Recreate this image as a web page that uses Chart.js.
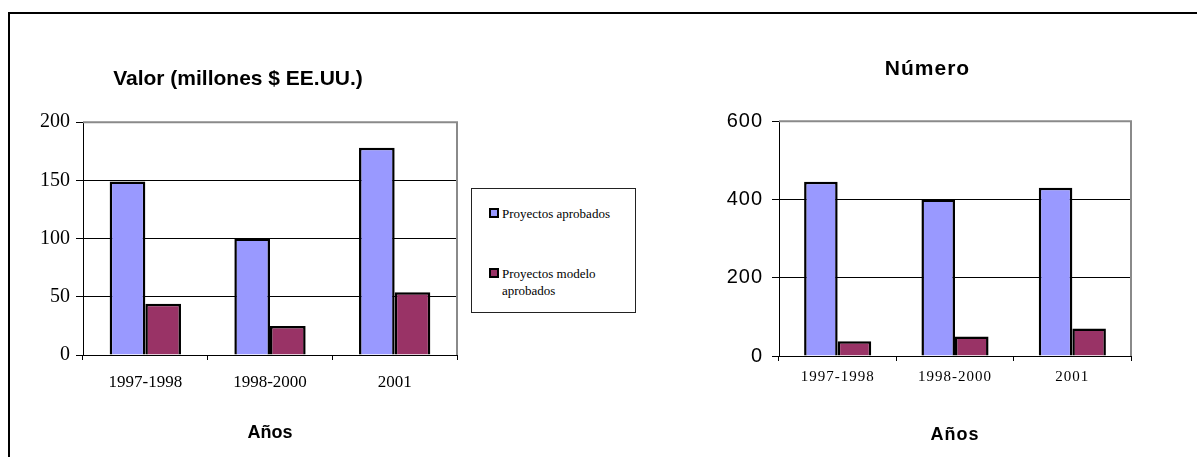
<!DOCTYPE html>
<html lang="es">
<head>
<meta charset="utf-8">
<title>Proyectos aprobados</title>
<script src="https://cdn.jsdelivr.net/npm/chart.js@4/dist/chart.umd.min.js"></script>
<style>
  html, body { margin: 0; padding: 0; background: #fff; }
  body { width: 1197px; height: 457px; position: relative; overflow: hidden; }
  #frame { position: absolute; left: 8px; top: 12px; right: -4px; bottom: -4px;
           border-top: 2px solid #000; border-left: 2px solid #000; }
  canvas { position: absolute; top: 0; }
  #valorChart { left: 19px; }
  #numeroChart { left: 724px; }
  #legend { position: absolute; left: 471px; top: 188px; width: 163px; height: 123px;
            border: 1px solid #222; background: #fff;
            font-family: 'Liberation Serif', 'Times New Roman', serif; font-size: 13px;
            line-height: 17px; color: #000; }
  .item { position: absolute; left: 17px; display: flex; align-items: flex-start; }
  .swatch { width: 6px; height: 6px; border: 2px solid #000; margin-top: 3px; margin-right: 3px; flex: none; }
  .label { width: 120px; }
</style>
</head>
<body>
<div id="frame"></div>
<canvas id="valorChart" width="451" height="457"></canvas>
<canvas id="numeroChart" width="427" height="457"></canvas>
<div id="legend"></div>
<script>
// Periods on the category axis
const periodos = ['1997-1998', '1998-2000', '2001'];

// Value of approved projects, millions of US$
const valorAprobados = [149, 100, 178];
const valorModelo = [44, 25, 54];

// Number of approved projects
const numeroAprobados = [445, 400, 430];
const numeroModelo = [38, 50, 70];

const serieNombres = ['Proyectos aprobados', 'Proyectos modelo aprobados'];
const colorAprobados = '#9999FF';
const colorModelo = '#993366';

const sans = "'Liberation Sans', Arial, sans-serif";
const serif = "'Liberation Serif', 'Times New Roman', serif";

// Grey top and right edges of the plot area
const plotFrame = {
  id: 'plotFrame',
  beforeDatasetsDraw(chart) {
    const { ctx, chartArea: a } = chart;
    ctx.save();
    ctx.strokeStyle = '#8a8a8a';
    ctx.lineWidth = 2;
    ctx.beginPath();
    ctx.moveTo(a.left, a.top);
    ctx.lineTo(a.right, a.top);
    ctx.lineTo(a.right, a.bottom);
    ctx.stroke();
    ctx.restore();
  }
};

// Slightly spaced lettering used by the second chart
const spacedText = {
  id: 'spacedText',
  beforeUpdate(chart) { chart.ctx.letterSpacing = '1px'; },
  beforeDraw(chart) { chart.ctx.letterSpacing = '1px'; }
};

function makeDatasets(aprobados, modelo) {
  return [
    { label: serieNombres[0], data: aprobados, backgroundColor: colorAprobados,
      borderColor: '#000', borderWidth: 2.5, borderSkipped: 'bottom' },
    { label: serieNombres[1], data: modelo, backgroundColor: colorModelo,
      borderColor: '#000', borderWidth: 2.5, borderSkipped: 'bottom' }
  ];
}

function makeOptions(cfg) {
  return {
    responsive: false,
    animation: false,
    devicePixelRatio: 1,
    layout: { padding: { left: 0, right: cfg.padRight, top: 0, bottom: 0 } },
    datasets: { bar: { categoryPercentage: 0.572, barPercentage: 1.0 } },
    plugins: {
      legend: { display: false },
      tooltip: { enabled: false },
      title: {
        display: true,
        text: cfg.title,
        color: '#000',
        font: { family: sans, size: cfg.titleSize, weight: 'bold', lineHeight: 1.2 },
        padding: { top: cfg.titleTop, bottom: cfg.titleBottom }
      }
    },
    scales: {
      x: {
        offset: true,
        afterFit(scale) { scale.height = cfg.xHeight; },
        grid: { offset: true, drawOnChartArea: false, drawTicks: true, tickLength: 5,
                tickColor: '#000', color: '#000' },
        border: { color: '#000', width: 1 },
        ticks: { color: '#000', font: cfg.xFont, padding: cfg.xPad, maxRotation: 0 },
        title: {
          display: true, text: 'Años', color: '#000',
          font: { family: sans, size: 18, weight: 'bold', lineHeight: 1.2 },
          padding: { top: 0, bottom: cfg.xTitleBottom }
        }
      },
      y: {
        min: 0, max: cfg.max,
        afterFit(scale) { scale.width = cfg.yWidth; },
        grid: { color: '#000', lineWidth: 1, drawTicks: true, tickLength: cfg.yTick, tickColor: '#000' },
        border: { color: '#000', width: 1 },
        ticks: { stepSize: cfg.step, color: '#000', font: cfg.yFont, padding: cfg.yPad }
      }
    }
  };
}

const valorChart = new Chart(document.getElementById('valorChart'), {
  type: 'bar',
  data: { labels: periodos, datasets: makeDatasets(valorAprobados, valorModelo) },
  options: makeOptions({
    title: 'Valor (millones $ EE.UU.)', titleSize: 21, titleTop: 67, titleBottom: 30,
    padRight: 13, yWidth: 64, xHeight: 102, max: 200, step: 50,
    xFont: { family: serif, size: 17 }, xPad: 12, xTitleBottom: 13,
    yFont: { family: serif, size: 20 }, yPad: 6, yTick: 7
  }),
  plugins: [plotFrame]
});

new Chart(document.getElementById('numeroChart'), {
  type: 'bar',
  data: { labels: periodos, datasets: makeDatasets(numeroAprobados, numeroModelo) },
  options: makeOptions({
    title: 'Número', titleSize: 21, titleTop: 57, titleBottom: 39,
    padRight: 20, yWidth: 55, xHeight: 101, max: 600, step: 200,
    xFont: { family: serif, size: 15 }, xPad: 7, xTitleBottom: 11,
    yFont: { family: sans, size: 20 }, yPad: 9, yTick: 7
  }),
  plugins: [plotFrame, spacedText]
});

// Legend box built from the first chart's series
const legend = document.getElementById('legend');
const itemTops = [16, 76];
valorChart.data.datasets.forEach((ds, i) => {
  const item = document.createElement('div');
  item.className = 'item';
  item.style.top = itemTops[i] + 'px';
  const sw = document.createElement('span');
  sw.className = 'swatch';
  sw.style.background = ds.backgroundColor;
  const lb = document.createElement('span');
  lb.className = 'label';
  lb.textContent = ds.label;
  item.appendChild(sw);
  item.appendChild(lb);
  legend.appendChild(item);
});
</script>
</body>
</html>
